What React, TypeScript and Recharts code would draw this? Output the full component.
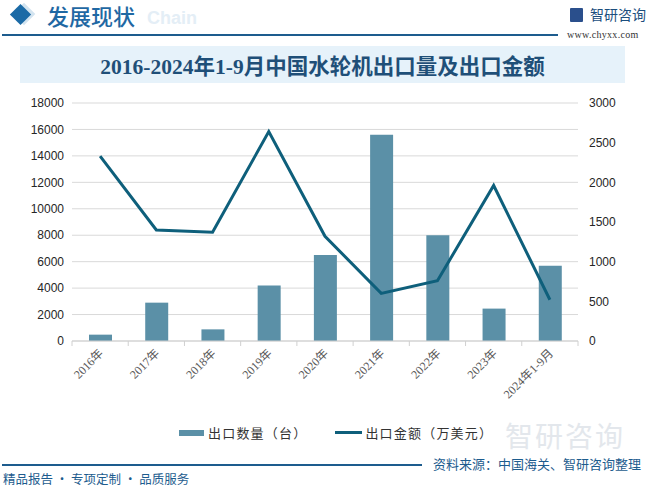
import {
  Bar,
  CartesianGrid,
  ComposedChart,
  Line,
  XAxis,
  YAxis,
} from "recharts";

const years = [
  "2016年",
  "2017年",
  "2018年",
  "2019年",
  "2020年",
  "2021年",
  "2022年",
  "2023年",
  "2024年1-9月",
];
const exportCount = [480, 2900, 880, 4200, 6500, 15600, 8000, 2450, 5700];
const exportValue = [2330, 1400, 1370, 2640, 1320, 600, 760, 1960, 520];
const leftTicks = [0, 2000, 4000, 6000, 8000, 10000, 12000, 14000, 16000, 18000];
const rightTicks = [0, 500, 1000, 1500, 2000, 2500, 3000];

const data = years.map((year, i) => ({
  year,
  count: exportCount[i],
  value: exportValue[i],
}));

const CJK = '"Noto Sans CJK SC", "Noto Sans", sans-serif';
const BAR_COLOR = "#5b90a7";
const LINE_COLOR = "#0e5f7b";
const BRAND = "#1d5c8e";

/** Category label rotated -45deg, plus a tick mark on each band boundary. */
function YearTick(props: any) {
  const { x, y, payload, index, visibleTicksCount } = props;
  const half = payload?.offset ?? 0;
  const isLast = index === visibleTicksCount - 1;
  return (
    <g>
      <line x1={x - half} y1={y} x2={x - half} y2={y + 5} stroke="#d0d0d0" />
      {isLast ? (
        <line x1={x + half} y1={y} x2={x + half} y2={y + 5} stroke="#d0d0d0" />
      ) : null}
      <text
        x={x + 4}
        y={y + 13}
        transform={`rotate(-45, ${x + 4}, ${y + 13})`}
        textAnchor="end"
        fontSize={12}
        fill="#595959"
        fontFamily='"Liberation Serif", "Noto Sans CJK SC", serif'
      >
        {payload.value}
      </text>
    </g>
  );
}

export default function App() {
  return (
    <div
      style={{
        position: "absolute",
        left: 0,
        top: 0,
        width: 649,
        height: 488,
        background: "#fff",
        overflow: "hidden",
        fontFamily: CJK,
      }}
    >
      {/* header */}
      <div
        style={{
          position: "absolute",
          left: 16,
          top: 6,
          width: 16,
          height: 16,
          background: "#d3e4f0",
          transform: "rotate(45deg)",
        }}
      />
      <div
        style={{
          position: "absolute",
          left: 13,
          top: 7,
          width: 15,
          height: 15,
          background: "#1b6aa6",
          transform: "rotate(45deg)",
        }}
      />
      <div
        style={{
          position: "absolute",
          left: 147,
          top: 7,
          fontSize: 18,
          lineHeight: "22px",
          fontWeight: 700,
          color: "#e4eef6",
          fontFamily: '"Liberation Sans", sans-serif',
        }}
      >
        Chain
      </div>
      <div
        style={{
          position: "absolute",
          left: 47,
          top: 1,
          fontSize: 22,
          lineHeight: "28px",
          color: "#1f68a3",
          fontWeight: 500,
        }}
      >
        发展现状
      </div>
      <div
        style={{
          position: "absolute",
          left: 2,
          top: 34,
          width: 556,
          height: 1.5,
          background: BRAND,
        }}
      />
      <div
        style={{
          position: "absolute",
          left: 570,
          top: 8,
          width: 13,
          height: 14,
          background: "#2a4f8c",
          borderRadius: 1,
        }}
      />
      <div
        style={{
          position: "absolute",
          left: 590,
          top: 4,
          fontSize: 14,
          lineHeight: "20px",
          color: "#1b4e7d",
        }}
      >
        智研咨询
      </div>
      <div
        style={{
          position: "absolute",
          left: 567,
          top: 28,
          fontSize: 10,
          lineHeight: "14px",
          color: "#333",
          fontFamily: '"Liberation Serif", serif',
          letterSpacing: 0.3,
        }}
      >
        www.chyxx.com
      </div>

      {/* title band */}
      <div
        style={{
          position: "absolute",
          left: 20,
          top: 46,
          width: 605,
          height: 37,
          background: "#e6f2fa",
          display: "flex",
          alignItems: "center",
          justifyContent: "center",
          fontSize: 21.5,
          fontWeight: 700,
          color: "#1f4f78",
          fontFamily: '"Liberation Serif", "Noto Sans CJK SC", serif',
        }}
      >
        2016-2024年1-9月中国水轮机出口量及出口金额
      </div>

      {/* faint watermark near footer */}
      <div
        style={{
          position: "absolute",
          left: 505,
          top: 418,
          fontSize: 28,
          lineHeight: "34px",
          color: "#e3e7ec",
          letterSpacing: 2,
        }}
      >
        智研咨询
      </div>

      <div style={{ position: "absolute", left: 0, top: 0 }}>
        <ComposedChart
          width={649}
          height={488}
          data={data}
          margin={{ top: 103, right: 0, bottom: 87, left: 0 }}
        >
          <CartesianGrid yAxisId="left" vertical={false} stroke="#d9d9d9" />
          <XAxis
            dataKey="year"
            height={60}
            interval={0}
            tickLine={false}
            tickSize={0}
            tickMargin={0}
            axisLine={{ stroke: "#d0d0d0" }}
            tick={<YearTick />}
          />
          <YAxis
            yAxisId="left"
            width={72}
            domain={[0, 18000]}
            ticks={leftTicks}
            axisLine={false}
            tickLine={false}
            tick={{ fontSize: 12, fill: "#262626", fontFamily: '"Liberation Sans", sans-serif' }}
          />
          <YAxis
            yAxisId="right"
            orientation="right"
            width={71}
            domain={[0, 3000]}
            ticks={rightTicks}
            axisLine={false}
            tickLine={false}
            tickMargin={5}
            tick={{ fontSize: 12, fill: "#262626", fontFamily: '"Liberation Sans", sans-serif' }}
          />
          <Bar
            yAxisId="left"
            dataKey="count"
            name="出口数量（台）"
            fill={BAR_COLOR}
            barSize={23}
            isAnimationActive={false}
          />
          <Line
            yAxisId="right"
            type="linear"
            dataKey="value"
            name="出口金额（万美元）"
            stroke={LINE_COLOR}
            strokeWidth={3}
            dot={false}
            activeDot={false}
            isAnimationActive={false}
          />
        </ComposedChart>
      </div>

      {/* legend */}
      <div
        style={{
          position: "absolute",
          left: 179,
          top: 423,
          display: "flex",
          alignItems: "center",
          fontSize: 13,
          color: "#333",
          letterSpacing: 1.2,
        }}
      >
        <span
          style={{ width: 25, height: 6, background: BAR_COLOR, marginRight: 4 }}
        />
        <span>出口数量（台）</span>
        <span
          style={{
            width: 27,
            height: 3,
            background: LINE_COLOR,
            marginLeft: 28,
            marginRight: 3,
          }}
        />
        <span>出口金额（万美元）</span>
      </div>

      {/* footer */}
      <div
        style={{
          position: "absolute",
          left: 2,
          top: 464,
          width: 420,
          height: 1.5,
          background: BRAND,
        }}
      />
      <div
        style={{
          position: "absolute",
          left: 433,
          top: 455,
          fontSize: 13,
          lineHeight: "18px",
          color: BRAND,
          whiteSpace: "nowrap",
        }}
      >
        资料来源：中国海关、智研咨询整理
      </div>
      <div
        style={{
          position: "absolute",
          left: 3,
          top: 471,
          fontSize: 12.5,
          lineHeight: "16px",
          color: BRAND,
          whiteSpace: "nowrap",
        }}
      >
        精品报告 · 专项定制 · 品质服务
      </div>
    </div>
  );
}
